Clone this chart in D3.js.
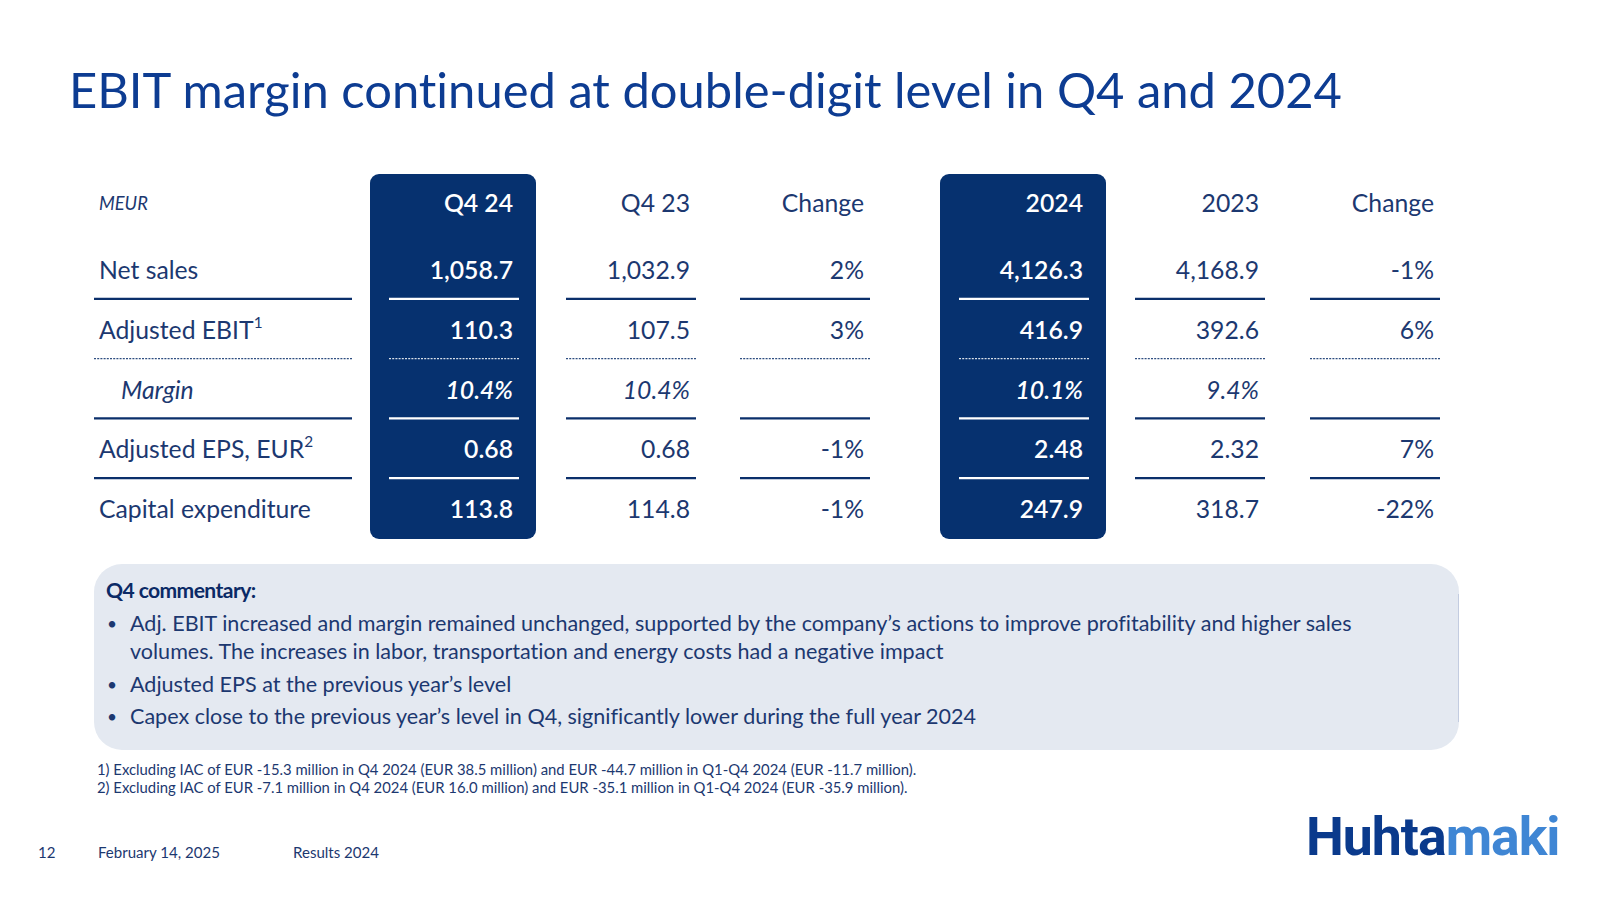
<!DOCTYPE html>
<html>
<head>
<meta charset="utf-8">
<script src="https://cdn.jsdelivr.net/npm/d3@7"></script>
<style>
  html, body { margin: 0; padding: 0; background: #fff; }
  svg { display: block; font-family: Lato, "Open Sans", sans-serif; font-variant-ligatures: none; }
</style>
</head>
<body>
<div id="chart"></div>
<script>
// ---- data ----
const title = 'EBIT margin continued at double-digit level in Q4 and 2024';
const unitLabel = 'MEUR';
const columns = ['Q4 24', 'Q4 23', 'Change', '2024', '2023', 'Change'];
const highlighted = [true, false, false, true, false, false];
const rowLabels = ['Net sales', 'Adjusted EBIT', 'Margin', 'Adjusted EPS, EUR', 'Capital expenditure'];
const rowNotes = ['', '1', '', '2', ''];
const rowItalic = [false, false, true, false, false];
const rowRule = ['solid', 'dotted', 'solid', 'solid', null];
const q424 = ['1,058.7', '110.3', '10.4%', '0.68', '113.8'];
const q423 = ['1,032.9', '107.5', '10.4%', '0.68', '114.8'];
const changeQ = ['2%', '3%', '', '-1%', '-1%'];
const y2024 = ['4,126.3', '416.9', '10.1%', '2.48', '247.9'];
const y2023 = ['4,168.9', '392.6', '9.4%', '2.32', '318.7'];
const changeY = ['-1%', '6%', '', '7%', '-22%'];
const values = [q424, q423, changeQ, y2024, y2023, changeY];

const commentaryTitle = 'Q4 commentary:';
const bullets = [
  ['Adj. EBIT increased and margin remained unchanged, supported by the company\u2019s actions to improve profitability and higher sales',
   'volumes. The increases in labor, transportation and energy costs had a negative impact'],
  ['Adjusted EPS at the previous year\u2019s level'],
  ['Capex close to the previous year\u2019s level in Q4, significantly lower during the full year 2024']
];
const footnotes = [
  '1) Excluding IAC of EUR -15.3 million in Q4 2024 (EUR 38.5 million) and EUR -44.7 million in Q1-Q4 2024 (EUR -11.7 million).',
  '2) Excluding IAC of EUR -7.1 million in Q4 2024 (EUR 16.0 million) and EUR -35.1 million in Q1-Q4 2024 (EUR -35.9 million).'
];
const footer = ['12', 'February 14, 2025', 'Results 2024'];

// ---- styles ----
const W = 1600, H = 900;
const navy = '#1c3870';
const titleBlue = '#0d3c92';
const boxFill = '#06316f';

const svg = d3.select('#chart').append('svg').attr('width', W).attr('height', H);

// scale font-size so the text gets a target width
function fit(sel, target) {
  const base = parseFloat(sel.attr('font-size'));
  const w = sel.node().getComputedTextLength();
  const size = base * target / w;
  sel.attr('font-size', size);
  return size;
}
function measure(str, size) {
  const t = svg.append('text').attr('font-size', size).text(str);
  const w = t.node().getComputedTextLength();
  t.remove();
  return w;
}

// title
const titleText = svg.append('text')
  .attr('x', 69).attr('y', 108)
  .attr('fill', titleBlue).attr('font-size', 50)
  .text(title);
fit(titleText, 1273);

// ---- table ----
const colRight = [513, 690, 864, 1083, 1259, 1434];
const ruleWidth = 130;
const y = d3.scaleLinear().domain([0, 4]).range([279, 518]);
const headerY = 212;
const tableSize = 100 * 212 / measure('Capital expenditure', 100);

// highlighted column boxes
columns.forEach((c, i) => {
  if (!highlighted[i]) return;
  svg.append('rect')
    .attr('x', colRight[i] - 143).attr('y', 174)
    .attr('width', 166).attr('height', 365)
    .attr('rx', 9).attr('fill', boxFill);
});

// header
svg.append('text')
  .attr('x', 99).attr('y', headerY - 2)
  .attr('font-size', tableSize * 0.74).attr('font-style', 'italic')
  .attr('fill', navy).text(unitLabel);

svg.selectAll('.col-head').data(columns).join('text')
  .attr('class', 'col-head')
  .attr('x', (d, i) => colRight[i]).attr('y', headerY)
  .attr('text-anchor', 'end').attr('font-size', tableSize)
  .attr('font-weight', (d, i) => highlighted[i] ? 600 : null)
  .attr('fill', (d, i) => highlighted[i] ? '#fff' : navy)
  .text(d => d);

// row labels
rowLabels.forEach((lab, r) => {
  const t = svg.append('text')
    .attr('x', rowItalic[r] ? 121 : 99).attr('y', y(r))
    .attr('font-size', tableSize).attr('fill', navy)
    .attr('font-style', rowItalic[r] ? 'italic' : null);
  t.append('tspan').text(lab);
  if (rowNotes[r]) {
    t.append('tspan').attr('dy', -11).attr('font-size', tableSize * 0.62).text(rowNotes[r]);
  }
});

// values
values.forEach((col, c) => {
  svg.selectAll(`.val-${c}`).data(col).join('text')
    .attr('class', `val-${c}`)
    .attr('x', colRight[c]).attr('y', (d, r) => y(r))
    .attr('text-anchor', 'end').attr('font-size', tableSize)
    .attr('font-style', (d, r) => rowItalic[r] ? 'italic' : null)
    .attr('font-weight', highlighted[c] ? 600 : null)
    .attr('fill', highlighted[c] ? '#fff' : navy)
    .text(d => d);
});

// row rules
rowRule.forEach((style, r) => {
  if (!style) return;
  const ry = (y(r) + y(r + 1)) / 2 - 10;
  const segs = [{ x1: 94, x2: 352, light: false }].concat(
    colRight.map((cr, c) => ({ x1: cr + 6 - ruleWidth, x2: cr + 6, light: highlighted[c] })));
  segs.forEach(s => {
    svg.append('line')
      .attr('x1', s.x1).attr('x2', s.x2).attr('y1', ry).attr('y2', ry)
      .attr('stroke', s.light ? '#fff' : '#0b2f6b')
      .attr('stroke-width', style === 'dotted' ? 1.3 : 2.2)
      .attr('stroke-opacity', style === 'dotted' ? 0.85 : 1)
      .attr('stroke-dasharray', style === 'dotted' ? '2,1.2' : null);
  });
});

// ---- commentary box ----
svg.append('rect')
  .attr('x', 94).attr('y', 564).attr('width', 1365).attr('height', 186)
  .attr('rx', 28).attr('fill', '#e4e9f1');
svg.append('line')
  .attr('x1', 1458.5).attr('x2', 1458.5).attr('y1', 594).attr('y2', 722)
  .attr('stroke', '#c3cce0').attr('stroke-width', 1);

const bodySize = 100 * 1222 / measure(bullets[0][0], 100);
svg.append('text')
  .attr('x', 106).attr('y', 598)
  .attr('font-size', bodySize * 0.98).attr('font-weight', 700)
  .attr('fill', '#0b2a66').attr('letter-spacing', -0.6)
  .text(commentaryTitle);

const lineY = [631, 659, 692, 724];
let li = 0;
bullets.forEach(b => {
  svg.append('text')
    .attr('x', 107).attr('y', lineY[li] - 1)
    .attr('font-size', bodySize * 0.8).attr('fill', navy).text('\u2022');
  b.forEach(line => {
    svg.append('text')
      .attr('x', 130).attr('y', lineY[li])
      .attr('font-size', bodySize).attr('fill', navy).text(line);
    li++;
  });
});

// footnotes
const noteSize = 100 * 820 / measure(footnotes[0], 100);
svg.selectAll('.note').data(footnotes).join('text')
  .attr('class', 'note')
  .attr('x', 97).attr('y', (d, i) => 775 + i * 18)
  .attr('font-size', noteSize).attr('fill', navy)
  .text(d => d);

// footer
const footSize = 100 * 122 / measure(footer[1], 100);
const footX = [38, 98, 293];
svg.selectAll('.foot').data(footer).join('text')
  .attr('class', 'foot')
  .attr('x', (d, i) => footX[i]).attr('y', 858)
  .attr('font-size', footSize).attr('fill', navy)
  .text(d => d);

// logo
const logo = svg.append('text')
  .attr('x', 1306).attr('y', 855)
  .attr('font-size', 50).attr('font-weight', 700)
  .attr('font-family', 'Roboto, sans-serif')
  .attr('letter-spacing', -1);
logo.append('tspan').attr('fill', '#0a3a8c').text('Huhta');
logo.append('tspan').attr('fill', '#3f86d4').text('maki');
fit(logo, 253);
</script>
</body>
</html>
